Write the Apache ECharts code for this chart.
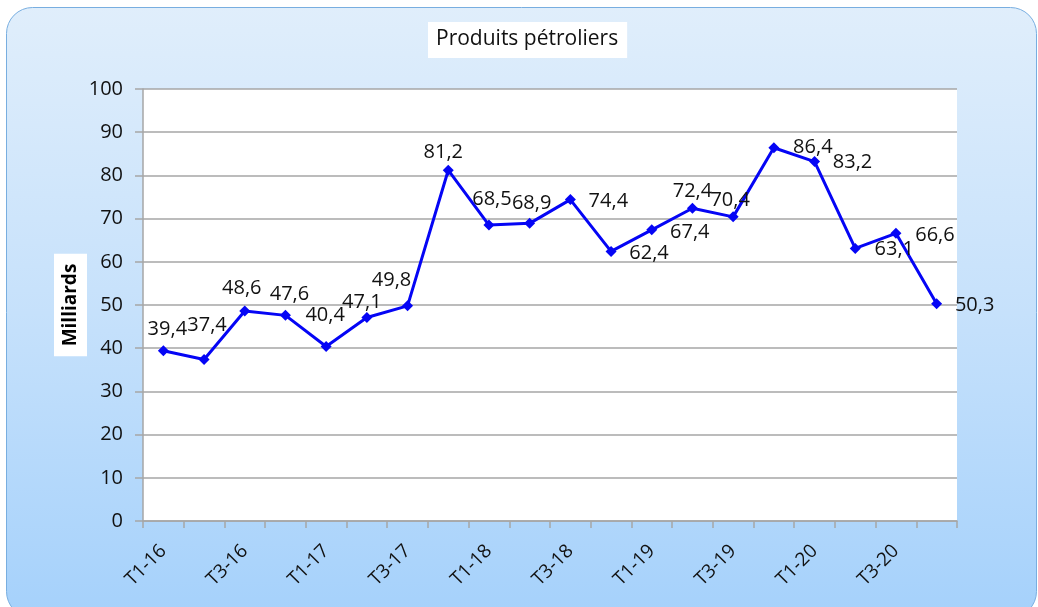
<!DOCTYPE html>
<html>
<head>
<meta charset="utf-8">
<script src="https://cdn.jsdelivr.net/npm/echarts@6/dist/echarts.min.js"></script>
<style>html,body{margin:0;padding:0;background:#fff;}#c{width:1038px;height:607px;}</style>
</head>
<body>
<div id="c"></div>
<script>
var categories = ['T1-16','T2-16','T3-16','T4-16','T1-17','T2-17','T3-17','T4-17',
  'T1-18','T2-18','T3-18','T4-18','T1-19','T2-19','T3-19','T4-19',
  'T1-20','T2-20','T3-20','T4-20'];
var values = [39.4,37.4,48.6,47.6,40.4,47.1,49.8,81.2,68.5,68.9,74.4,62.4,67.4,72.4,70.4,86.4,83.2,63.1,66.6,50.3];
var yTicks = { min: 0, max: 100, interval: 10 };

// label placement (style), offsets from the point
var labelOffsets = [[4,-21],[3,-34],[-3,-23],[4,-21],[-1,-31],[-5,-15],[-16,-26],[-5,-18],
  [3,-26],[2,-20],[38,2],[38,2],[38,2],[0,-17],[-3,-17],[39,0],[38,1],[39,1],[39,2],[38,2]];

var FONT = 'Open Sans';
var chart = echarts.init(document.getElementById('c'), null, {renderer:'canvas'});
var seriesData = values.map(function(v, i){
  return {
    value: v,
    label: { offset: labelOffsets[i] }
  };
});
chart.setOption({
  animation: false,
  textStyle: { fontFamily: FONT },
  graphic: [{
    type: 'rect', z: -100, silent: true,
    shape: { x: 6.5, y: 7.5, width: 1030, height: 610, r: 26 },
    style: {
      fill: new echarts.graphic.LinearGradient(0, 0, 0, 1, [
        { offset: 0, color: '#e0eefb' },
        { offset: 0.5, color: '#c6e1fb' },
        { offset: 1, color: '#a5d1fb' }
      ]),
      stroke: '#78aee0', lineWidth: 1
    }
  }],
  title: {
    text: 'Produits pétroliers',
    left: 428, top: 22,
    backgroundColor: '#ffffff',
    padding: [7, 9, 8, 8],
    textStyle: { fontFamily: FONT, fontSize: 21, fontWeight: 'normal', color: '#111' }
  },
  grid: { left: 143, right: 81, top: 89, bottom: 86, show: true, backgroundColor: '#ffffff', borderWidth: 0 },
  xAxis: {
    type: 'category',
    data: categories,
    boundaryGap: true,
    axisLine: { show: true, lineStyle: { color: '#a6a6a6', width: 1.5 } },
    axisTick: { show: true, alignWithLabel: false, interval: 0, length: 7, lineStyle: { color: '#a6a6a6', width: 1.5 } },
    axisLabel: { interval: 1, rotate: 45, margin: 27, fontFamily: FONT, fontSize: 19, color: '#111' },
    splitLine: { show: false }
  },
  yAxis: {
    type: 'value',
    min: yTicks.min, max: yTicks.max, interval: yTicks.interval,
    name: 'Milliards',
    nameLocation: 'middle',
    nameRotate: 90,
    nameGap: 56,
    nameMoveOverlap: false,
    nameTextStyle: { fontFamily: FONT, fontSize: 19, fontWeight: 'bold', color: '#000', backgroundColor: '#ffffff', padding: [7, 10, 7, 10] },
    axisLine: { show: true, lineStyle: { color: '#a6a6a6', width: 1.5 } },
    axisTick: { show: true, length: 8, lineStyle: { color: '#a6a6a6', width: 1.5 } },
    axisLabel: { margin: 20, fontFamily: FONT, fontSize: 20, color: '#111' },
    splitLine: { show: true, lineStyle: { color: '#a6a6a6', width: 1.5 } }
  },
  series: [{
    type: 'line',
    data: seriesData,
    symbol: 'diamond',
    symbolSize: 11,
    lineStyle: { color: '#0505f5', width: 3 },
    itemStyle: { color: '#0505f5' },
    label: {
      show: true,
      position: 'inside',
      fontFamily: FONT, fontSize: 20, color: '#111',
      formatter: function(p){ return String(p.value).replace('.', ','); }
    }
  }]
});
</script>
</body>
</html>
